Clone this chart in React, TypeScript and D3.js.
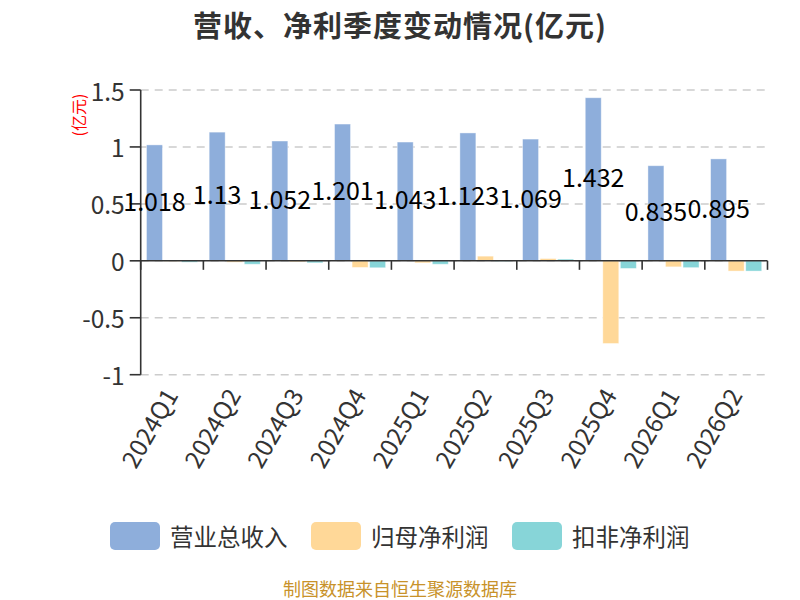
import React from "react";
import * as d3 from "d3";

const quarters = ["2024Q1", "2024Q2", "2024Q3", "2024Q4", "2025Q1", "2025Q2", "2025Q3", "2025Q4", "2026Q1", "2026Q2"];
const revenue = [1.018, 1.13, 1.052, 1.201, 1.043, 1.123, 1.069, 1.432, 0.835, 0.895];
const netProfit = [-0.004, -0.012, -0.009, -0.058, -0.018, 0.041, 0.02, -0.726, -0.053, -0.09];
const deductedProfit = [-0.012, -0.03, -0.018, -0.061, -0.03, -0.005, 0.015, -0.067, -0.06, -0.09];
const seriesNames = ["营业总收入", "归母净利润", "扣非净利润"];
const seriesColors = ["#8eaedb", "#ffd898", "#87d5d8"];
const yTicks = [-1, -0.5, 0, 0.5, 1, 1.5];

const FONT = '"Noto Sans CJK SC", "Noto Sans", sans-serif';

export default function App() {
  const w = 800;
  const h = 600;
  const plot = { left: 140.7, right: 767.5, top: 90, bottom: 374.7 };

  const x = d3.scaleBand<string>().domain(quarters).range([plot.left, plot.right]);
  const inner = d3
    .scaleBand<string>()
    .domain(seriesNames)
    .range([0, x.bandwidth()])
    .paddingInner(0.09)
    .paddingOuter(0.33);
  const y = d3.scaleLinear().domain([-1, 1.5]).range([plot.bottom, plot.top]);
  const y0 = y(0);

  const series = [revenue, netProfit, deductedProfit];
  const boundaries = [...quarters.map((q) => x(q) as number), plot.right];

  return (
    <svg
      width={w}
      height={h}
      style={{ position: "absolute", left: 0, top: 0, fontFamily: FONT }}
    >
      <rect width={w} height={h} fill="#fff" />
      <text x={400} y={24} textAnchor="middle" dominantBaseline="central" fontSize={29} fontWeight="bold" fill="#333" letterSpacing={1}>
        营收、净利季度变动情况(亿元)
      </text>
      <text
        transform={`translate(78, 115) rotate(-90)`}
        textAnchor="middle"
        dominantBaseline="central"
        fontSize={16}
        fill="#ff0000"
      >
        (亿元)
      </text>

      {/* grid */}
      {yTicks.map((t) => (
        <line key={t} x1={plot.left} x2={plot.right} y1={y(t)} y2={y(t)} stroke="#ccc" strokeWidth={1.5} strokeDasharray="8,6" />
      ))}

      {/* bars */}
      {series.map((vals, si) =>
        vals.map((v, i) => {
          const bx = (x(quarters[i]) as number) + (inner(seriesNames[si]) as number);
          return (
            <rect
              key={`${si}-${i}`}
              x={bx}
              y={Math.min(y(v), y0)}
              width={inner.bandwidth()}
              height={Math.abs(y(v) - y0)}
              fill={seriesColors[si]}
              stroke="#fff"
              strokeOpacity={0.5}
              strokeWidth={0.8}
            />
          );
        })
      )}

      {/* y axis */}
      <line x1={plot.left} x2={plot.left} y1={y(1.5)} y2={y(-1)} stroke="#333" strokeWidth={1.6} />
      {yTicks.map((t) => (
        <g key={t}>
          <line x1={plot.left - 11} x2={plot.left} y1={y(t)} y2={y(t)} stroke="#333" strokeWidth={1.6} />
          <text x={plot.left - 16} y={y(t)} textAnchor="end" dominantBaseline="central" fontSize={24.5} fill="#333">
            {t}
          </text>
        </g>
      ))}

      {/* x axis */}
      <line x1={plot.left} x2={plot.right} y1={y0} y2={y0} stroke="#333" strokeWidth={1.6} />
      {boundaries.map((bx, i) => (
        <line key={i} x1={bx} x2={bx} y1={y0} y2={y0 + 9} stroke="#333" strokeWidth={1.6} />
      ))}
      {quarters.map((q) => {
        const cx = (x(q) as number) + x.bandwidth() / 2;
        return (
          <text
            key={q}
            transform={`translate(${cx - 2}, 390) rotate(-60)`}
            textAnchor="end"
            dominantBaseline="central"
            fontSize={24.5}
            fill="#333"
          >
            {q}
          </text>
        );
      })}

      {/* value labels */}
      {revenue.map((v, i) => {
        const cx = (x(quarters[i]) as number) + (inner(seriesNames[0]) as number) + inner.bandwidth() / 2;
        return (
          <text key={i} x={cx} y={(y(v) + y0) / 2 - 3} textAnchor="middle" dominantBaseline="central" fontSize={25} fill="#000">
            {v}
          </text>
        );
      })}

      {/* legend */}
      {seriesNames.map((name, i) => (
        <g key={name} transform={`translate(${110 + i * 201}, 522)`}>
          <rect width={50} height={28} rx={5} fill={seriesColors[i]} />
          <text x={60} y={14} dominantBaseline="central" fontSize={23.5} fill="#333">
            {name}
          </text>
        </g>
      ))}

      <text x={400} y={588} textAnchor="middle" dominantBaseline="central" fontSize={18} fill="#c8922a">
        制图数据来自恒生聚源数据库
      </text>
    </svg>
  );
}
